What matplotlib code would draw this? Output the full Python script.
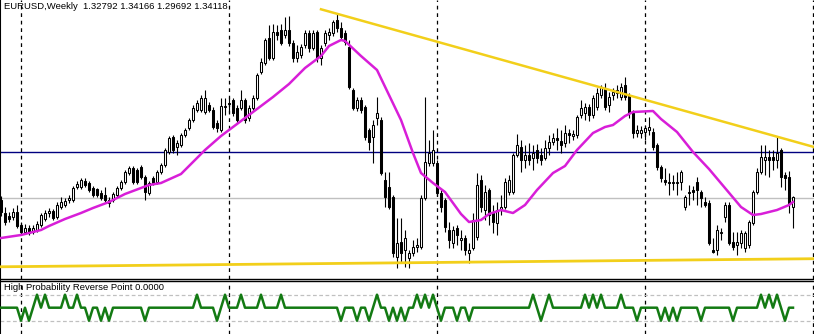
import matplotlib
matplotlib.use("Agg")
import matplotlib.pyplot as plt
import numpy as np

symbol_title = "EURUSD,Weekly  1.32792 1.34166 1.29692 1.34118"
indicator_title = "High Probability Reverse Point 0.0000"

opens = [
    1.3400, 1.3218, 1.3176, 1.3162, 1.3232, 1.3050, 1.2952, 1.3008, 1.2952, 1.2980,
    1.3050, 1.3134, 1.3218, 1.3246, 1.3162, 1.3302, 1.3330, 1.3400, 1.3400, 1.3582,
    1.3582, 1.3666, 1.3638, 1.3568, 1.3554, 1.3498, 1.3470, 1.3358, 1.3400, 1.3470,
    1.3568, 1.3652, 1.3778, 1.3848, 1.3820, 1.3862, 1.3722, 1.3498, 1.3708, 1.3652,
    1.3792, 1.3890, 1.4072, 1.4282, 1.4142, 1.4170, 1.4310, 1.4408, 1.4520, 1.4660,
    1.4660, 1.4632, 1.4730, 1.4660, 1.4478, 1.4380, 1.4702, 1.4744, 1.4800, 1.4688,
    1.4688, 1.4800, 1.4548, 1.4688, 1.4828, 1.5192, 1.5318, 1.5668, 1.5388, 1.5752,
    1.5780, 1.5710, 1.5780, 1.5598, 1.5388, 1.5430, 1.5570, 1.5738, 1.5528, 1.5752,
    1.5388, 1.5598, 1.5710, 1.5738, 1.5920, 1.5808, 1.5738, 1.5542, 1.4940, 1.4688,
    1.4800, 1.4702, 1.4380, 1.4282, 1.4548, 1.4520, 1.3680, 1.3582, 1.3442, 1.2602,
    1.2812, 1.2700, 1.2588, 1.2658, 1.2742, 1.2742, 1.3428, 1.3918, 1.3918, 1.3918,
    1.3498, 1.3400, 1.2980, 1.2798, 1.3008, 1.2840, 1.2868, 1.2658, 1.2728, 1.2882,
    1.3680, 1.3260, 1.3540, 1.3232, 1.3078, 1.3260, 1.3302, 1.3512, 1.3512, 1.4030,
    1.4142, 1.3960, 1.4030, 1.3988, 1.4100, 1.4030, 1.3988, 1.4128, 1.4212, 1.4268,
    1.4226, 1.4198, 1.4338, 1.4296, 1.4310, 1.4590, 1.4618, 1.4702, 1.4590, 1.4702,
    1.4870, 1.4968, 1.4730, 1.4870, 1.4898, 1.4842, 1.5010, 1.4870, 1.4618, 1.4338,
    1.4338, 1.4352, 1.4380, 1.4352, 1.4170, 1.3862, 1.3680, 1.3652, 1.3638, 1.3638,
    1.3652, 1.3302, 1.3498, 1.3540, 1.3652, 1.3512, 1.3372, 1.3358, 1.2700, 1.2700,
    1.2938, 1.3162, 1.3330, 1.2812, 1.2770, 1.2798, 1.2728, 1.2770, 1.3078, 1.3512,
    1.3792, 1.3960, 1.4002, 1.4002, 1.3960, 1.4100, 1.3750, 1.3722, 1.3302,
]
highs = [
    1.3456, 1.3302, 1.3232, 1.3288, 1.3330, 1.3092, 1.3064, 1.3050, 1.3050, 1.3106,
    1.3218, 1.3260, 1.3288, 1.3274, 1.3372, 1.3442, 1.3428, 1.3470, 1.3596, 1.3666,
    1.3708, 1.3708, 1.3666, 1.3596, 1.3568, 1.3540, 1.3582, 1.3442, 1.3512, 1.3596,
    1.3680, 1.3820, 1.3876, 1.3876, 1.3848, 1.3890, 1.3750, 1.3666, 1.3736, 1.3820,
    1.3918, 1.4128, 1.4296, 1.4310, 1.4240, 1.4338, 1.4408, 1.4548, 1.4730, 1.4800,
    1.4870, 1.4940, 1.4772, 1.4702, 1.4520, 1.4828, 1.4828, 1.4842, 1.4828, 1.4730,
    1.4940, 1.4828, 1.4730, 1.4870, 1.5178, 1.5388, 1.5668, 1.5850, 1.5864, 1.5850,
    1.5864, 1.5962, 1.5976, 1.5640, 1.5570, 1.5584, 1.5780, 1.5780, 1.5780, 1.5780,
    1.5570, 1.5780, 1.5808, 1.5920, 1.6004, 1.5892, 1.5780, 1.5640, 1.4968, 1.4842,
    1.4842, 1.4730, 1.4408, 1.4520, 1.4842, 1.4562, 1.3792, 1.3792, 1.3470, 1.3148,
    1.3148, 1.2980, 1.2700, 1.2840, 1.2868, 1.3470, 1.4842, 1.4240, 1.4380, 1.3960,
    1.3540, 1.3428, 1.3092, 1.3036, 1.3050, 1.2980, 1.2910, 1.2798, 1.3218, 1.3778,
    1.3750, 1.3610, 1.3568, 1.3330, 1.3372, 1.3470, 1.3708, 1.3750, 1.4058, 1.4324,
    1.4240, 1.4170, 1.4198, 1.4170, 1.4184, 1.4128, 1.4240, 1.4310, 1.4338, 1.4408,
    1.4380, 1.4450, 1.4394, 1.4380, 1.4590, 1.4800, 1.4758, 1.4744, 1.4870, 1.4968,
    1.5010, 1.5038, 1.4912, 1.4968, 1.5010, 1.5038, 1.5122, 1.4898, 1.4660, 1.4450,
    1.4436, 1.4450, 1.4562, 1.4408, 1.4198, 1.3890, 1.3848, 1.3778, 1.3750, 1.3792,
    1.3820, 1.3470, 1.3610, 1.3596, 1.3722, 1.3540, 1.3442, 1.3400, 1.2868, 1.3050,
    1.3008, 1.3372, 1.3372, 1.2952, 1.2952, 1.2980, 1.2966, 1.3120, 1.3540, 1.3848,
    1.4170, 1.4170, 1.4100, 1.4100, 1.4296, 1.4128, 1.3792, 1.3806, 1.3456,
]
lows = [
    1.3176, 1.3050, 1.3092, 1.3120, 1.3008, 1.2910, 1.2924, 1.2910, 1.2924, 1.2952,
    1.3022, 1.3106, 1.3162, 1.3120, 1.3134, 1.3274, 1.3302, 1.3358, 1.3372, 1.3554,
    1.3554, 1.3582, 1.3512, 1.3442, 1.3442, 1.3400, 1.3372, 1.3302, 1.3372, 1.3442,
    1.3540, 1.3624, 1.3750, 1.3624, 1.3624, 1.3694, 1.3400, 1.3470, 1.3610, 1.3624,
    1.3764, 1.3862, 1.4044, 1.4058, 1.4030, 1.4142, 1.4282, 1.4380, 1.4492, 1.4632,
    1.4632, 1.4604, 1.4632, 1.4394, 1.4352, 1.4352, 1.4590, 1.4618, 1.4576, 1.4478,
    1.4660, 1.4478, 1.4506, 1.4660, 1.4800, 1.5164, 1.5290, 1.5360, 1.5360, 1.5640,
    1.5570, 1.5668, 1.5556, 1.5332, 1.5332, 1.5388, 1.5528, 1.5472, 1.5500, 1.5332,
    1.5290, 1.5556, 1.5640, 1.5696, 1.5752, 1.5640, 1.5570, 1.4954, 1.4660, 1.4646,
    1.4618, 1.4240, 1.4100, 1.3918, 1.4450, 1.3750, 1.3302, 1.3274, 1.2602, 1.2448,
    1.2532, 1.2462, 1.2448, 1.2616, 1.2672, 1.2714, 1.3400, 1.3876, 1.3876, 1.3456,
    1.3232, 1.2952, 1.2728, 1.2728, 1.2770, 1.2700, 1.2630, 1.2518, 1.2700, 1.2840,
    1.3232, 1.3120, 1.3050, 1.2938, 1.2910, 1.3190, 1.3274, 1.3470, 1.3484, 1.4002,
    1.3792, 1.3848, 1.3890, 1.3820, 1.3918, 1.3890, 1.3960, 1.4030, 1.4170, 1.4100,
    1.4058, 1.4142, 1.4198, 1.4240, 1.4268, 1.4548, 1.4520, 1.4506, 1.4548, 1.4660,
    1.4828, 1.4660, 1.4632, 1.4800, 1.4828, 1.4800, 1.4800, 1.4548, 1.4268, 1.4282,
    1.4268, 1.4240, 1.4310, 1.4100, 1.3820, 1.3652, 1.3610, 1.3470, 1.3540, 1.3470,
    1.3540, 1.3260, 1.3330, 1.3400, 1.3330, 1.3302, 1.3302, 1.2770, 1.2658, 1.2630,
    1.2840, 1.3092, 1.2770, 1.2700, 1.2630, 1.2728, 1.2672, 1.2728, 1.3050, 1.3484,
    1.3764, 1.3750, 1.3722, 1.3820, 1.3848, 1.3582, 1.3540, 1.3218, 1.3008,
]
closes = [
    1.3232, 1.3092, 1.3134, 1.3232, 1.3036, 1.2952, 1.3008, 1.2938, 1.3008, 1.3064,
    1.3190, 1.3218, 1.3246, 1.3148, 1.3330, 1.3372, 1.3386, 1.3428, 1.3568, 1.3624,
    1.3680, 1.3610, 1.3540, 1.3470, 1.3470, 1.3428, 1.3400, 1.3400, 1.3484, 1.3568,
    1.3652, 1.3792, 1.3848, 1.3652, 1.3652, 1.3722, 1.3512, 1.3638, 1.3638, 1.3792,
    1.3890, 1.4100, 1.4268, 1.4100, 1.4198, 1.4310, 1.4380, 1.4520, 1.4688, 1.4758,
    1.4828, 1.4828, 1.4660, 1.4422, 1.4408, 1.4716, 1.4716, 1.4758, 1.4618, 1.4520,
    1.4800, 1.4520, 1.4688, 1.4828, 1.5150, 1.5332, 1.5640, 1.5388, 1.5752, 1.5710,
    1.5598, 1.5780, 1.5598, 1.5388, 1.5472, 1.5542, 1.5738, 1.5528, 1.5738, 1.5388,
    1.5528, 1.5738, 1.5752, 1.5892, 1.5808, 1.5682, 1.5612, 1.4982, 1.4688, 1.4800,
    1.4660, 1.4282, 1.4212, 1.4450, 1.4618, 1.3778, 1.3442, 1.3302, 1.2658, 1.2798,
    1.2658, 1.2868, 1.2658, 1.2742, 1.2770, 1.3428, 1.3932, 1.4058, 1.4100, 1.3498,
    1.3302, 1.3022, 1.2840, 1.2980, 1.2910, 1.2868, 1.2700, 1.2700, 1.3120, 1.3610,
    1.3302, 1.3512, 1.3190, 1.3092, 1.3260, 1.3302, 1.3652, 1.3680, 1.4030, 1.4170,
    1.3960, 1.4030, 1.3960, 1.4058, 1.3988, 1.3960, 1.4128, 1.4212, 1.4268, 1.4240,
    1.4170, 1.4338, 1.4310, 1.4324, 1.4562, 1.4688, 1.4702, 1.4590, 1.4828, 1.4898,
    1.4982, 1.4702, 1.4842, 1.4912, 1.4940, 1.4982, 1.4842, 1.4618, 1.4338, 1.4380,
    1.4380, 1.4408, 1.4422, 1.4142, 1.3862, 1.3708, 1.3652, 1.3638, 1.3652, 1.3652,
    1.3792, 1.3442, 1.3512, 1.3512, 1.3540, 1.3428, 1.3330, 1.2798, 1.2672, 1.2980,
    1.2952, 1.3330, 1.2798, 1.2742, 1.2812, 1.2938, 1.2938, 1.3092, 1.3512, 1.3792,
    1.4002, 1.4002, 1.3960, 1.3960, 1.4058, 1.3722, 1.3708, 1.3358, 1.3442,
]

# moving average (magenta) read at selected bars
ma_idx = [0, 5, 10, 12, 16, 20, 23, 27, 31, 35, 37, 40, 45, 48, 51, 55, 58, 63, 68, 72,
          76, 80, 82, 85, 86, 90, 94, 97, 100, 101, 103, 105, 108, 111, 115, 117, 120, 122,
          125, 128, 131, 134, 138, 141, 144, 148, 151, 153, 156, 158, 163, 165, 169, 173,
          177, 181, 185, 188, 190, 194, 197, 198]
ma_val = [1.2868, 1.2910, 1.2980, 1.3036, 1.3134, 1.3218, 1.3288, 1.3372, 1.3484, 1.3568,
          1.3610, 1.3638, 1.3764, 1.3932, 1.4100, 1.4296, 1.4422, 1.4632, 1.4842, 1.5024,
          1.5248, 1.5416, 1.5556, 1.5640, 1.5626, 1.5416, 1.5220, 1.4870, 1.4520, 1.4366,
          1.4058, 1.3778, 1.3638, 1.3512, 1.3204, 1.3092, 1.3120, 1.3204, 1.3260, 1.3218,
          1.3330, 1.3540, 1.3778, 1.3876, 1.4100, 1.4338, 1.4422, 1.4450, 1.4576, 1.4632,
          1.4646, 1.4534, 1.4352, 1.4072, 1.3834, 1.3568, 1.3302, 1.3190, 1.3204, 1.3260,
          1.3330, 1.3372]

trend_idx = [80, 203.25]
trend_val = [1.6070, 1.4142]
support_idx = [-0.25, 203.25]
support_val = [1.2465, 1.2578]
resistance_level = 1.4068
price_level = 1.3435
year_breaks = [5, 57, 109, 161, 203]

hprp = [
    0, 0, 0, 0, 0, -1, 0, -1, 0, 1,
    0, 1, 0, 0, 0, 0, 1, 0, 0, 1,
    0, 0, -1, 0, 0, -1, 0, -1, 0, 0,
    0, 0, 0, 0, 0, 0, -1, 0, 0, 0,
    0, 0, 0, 0, 0, 0, 0, 0, 0, 1,
    0, 0, 0, 0, -1, 0, 1, 0, 0, 0,
    1, 0, 0, 0, 0, 1, 0, 0, 0, 0,
    1, 0, 0, 0, 0, 0, 0, 0, 0, 0,
    0, 0, 0, 0, 0, -1, 0, 0, 0, -1,
    0, 0, -1, 0, 1, 0, 0, -1, 0, -1,
    0, -1, 0, 0, 1, 0, 1, 0, 1, 0,
    -1, 0, 0, 0, -1, 0, 0, -1, 0, 0,
    0, 0, 0, 0, 0, 0, 0, 0, 0, 0,
    0, 0, 0, 1, 0, -1, 0, 1, 0, 0,
    0, 0, 0, 0, 0, 0, 1, 0, 1, 0,
    1, 0, 0, 0, 0, 1, 0, 0, 0, -1,
    0, 0, 0, 0, 0, -1, 0, -1, 0, -1,
    0, 0, 0, 0, 0, -1, 0, 0, 0, 0,
    0, 0, 0, -1, 0, 0, 0, 0, 0, 0,
    1, 0, 1, 0, 1, 0, -1, 0, 0,
]

W, H = 814, 334
fig = plt.figure(figsize=(W / 100, H / 100), dpi=100)
fig.patch.set_facecolor("white")
ax = fig.add_axes([0, (H - 279) / H, 1, 279 / H])
ax2 = fig.add_axes([0, 0, 1, 53 / H])

o = np.array(opens); h = np.array(highs); l = np.array(lows); c = np.array(closes)
idx = np.arange(len(o))
up = c >= o

ax.vlines(idx, l, h, color="black", lw=0.8, zorder=2)
ax.bar(idx[up], (c - o)[up], bottom=o[up], width=0.55, facecolor="white",
       edgecolor="black", lw=0.75, zorder=3)
ax.bar(idx[~up], (o - c)[~up], bottom=c[~up], width=0.55, facecolor="black",
       edgecolor="black", lw=0.75, zorder=3)

ax.axhline(resistance_level, color="#000080", lw=1.0, zorder=1)
ax.axhline(price_level, color="#c0c0c0", lw=1.0, zorder=1)
ax.plot(ma_idx, ma_val, color="#d81ed8", lw=1.8, zorder=4)
ax.plot(trend_idx, trend_val, color="#f2cf1a", lw=1.8, zorder=4)
ax.plot(support_idx, support_val, color="#f2cf1a", lw=2.0, zorder=4)

for a in (ax, ax2):
    for xb in year_breaks:
        a.axvline(xb, color="black", lw=0.9, ls=(0, (3, 3)), zorder=1)
    a.set_xlim(-0.25, 203.25)
    a.set_xticks([]); a.set_yticks([])
    for s in a.spines.values():
        s.set_visible(False)
    a.spines["left"].set_visible(True)
    a.spines["left"].set_linewidth(1.5)

ax.set_ylim(1.2294, 1.6200)
ax.spines["bottom"].set_visible(True)
ax.spines["bottom"].set_linewidth(1.0)

ax2.set_ylim(-2.02, 2.05)
ax2.spines["top"].set_visible(True)
ax2.spines["top"].set_linewidth(1.0)
ax2.axhline(1, color="#c0c0c0", lw=0.9, ls=(0, (3, 2)), zorder=1)
ax2.axhline(-1, color="#c0c0c0", lw=0.9, ls=(0, (3, 2)), zorder=1)
ax2.plot(idx, hprp, color="#137a13", lw=1.8, zorder=3)

fig.text(4 / W, 1 - 2 / H, symbol_title, ha="left", va="top", fontsize=6.8,
         family="Liberation Sans", color="black")
fig.text(4 / W, 1 - 283 / H, indicator_title, ha="left", va="top", fontsize=6.8,
         family="Liberation Sans", color="black")

fig.savefig("out.png", dpi=100)
